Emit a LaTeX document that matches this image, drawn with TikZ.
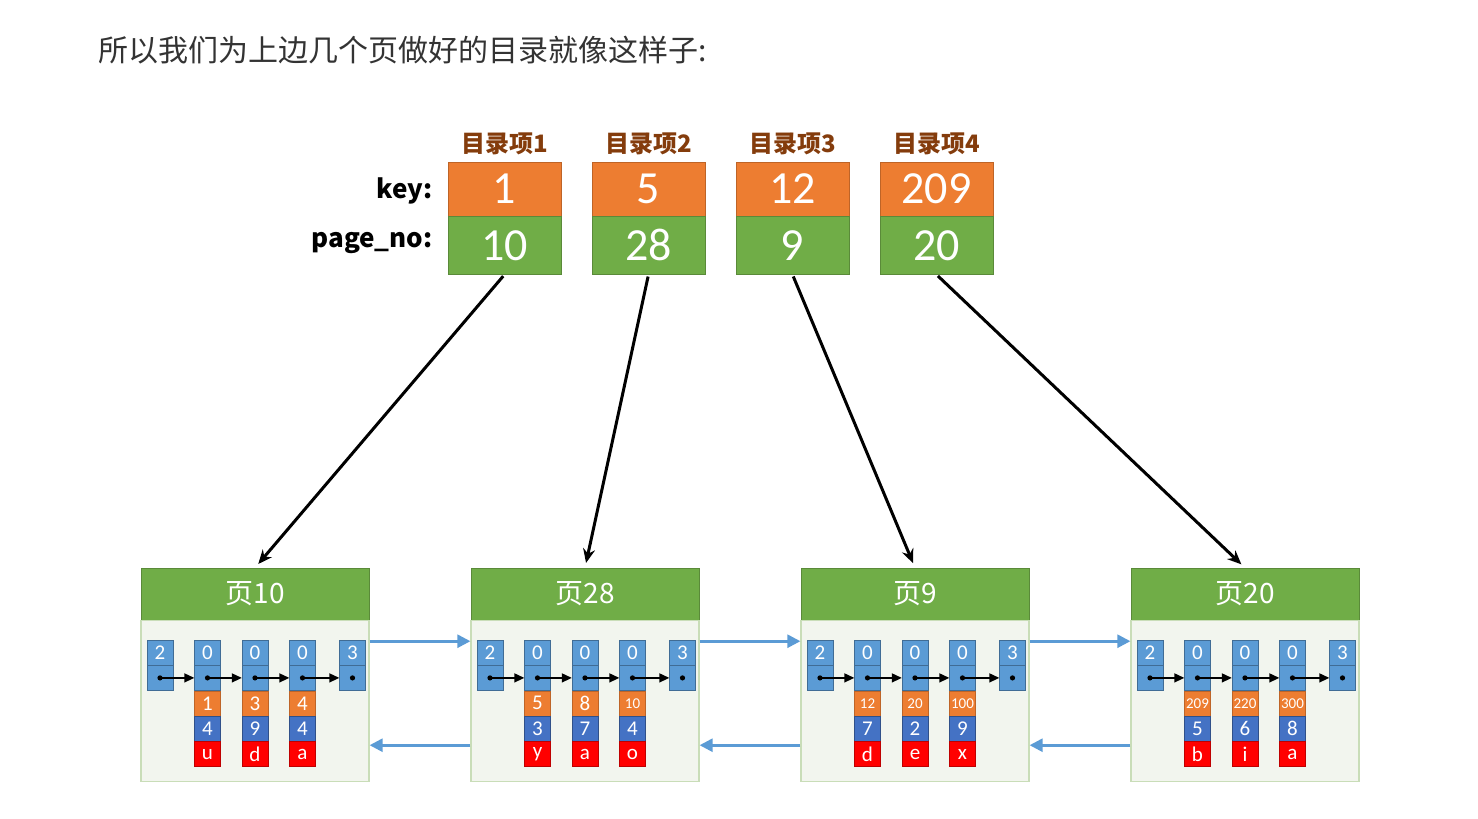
\documentclass[tikz,border=0pt]{standalone}
\usepackage{fontspec}
\setmainfont{Carlito}
\newfontfamily\cjk{Noto Sans CJK SC}
\usetikzlibrary{positioning, arrows.meta}
\definecolor{korange}{HTML}{ED7D31}
\definecolor{kgreen}{HTML}{70AD47}
\definecolor{kblue}{HTML}{5B9BD5}
\definecolor{kdblue}{HTML}{4472C4}
\definecolor{kred}{HTML}{FF0000}
\definecolor{kbrown}{HTML}{843C0C}
\definecolor{kbody}{HTML}{F2F5EE}
\definecolor{kline}{HTML}{C9DDB8}
\tikzset{keybox/.style={draw=korange!80!black,fill=korange,text=white,minimum width=113pt,minimum height=54pt,inner sep=0pt,font=\fontsize{46}{46}\selectfont}}
\tikzset{pagebox/.style={draw=kgreen!80!black,fill=kgreen,text=white,minimum width=113pt,minimum height=58pt,inner sep=0pt,font=\fontsize{46}{46}\selectfont}}
\tikzset{entrylabel/.style={text=kbrown,font=\cjk\bfseries\fontsize{24}{24}\selectfont,inner sep=1pt}}
\tikzset{rowlabel/.style={anchor=east,font=\cjk\bfseries\fontsize{26}{26}\selectfont,inner sep=0pt}}
\tikzset{pagehead/.style={draw=kgreen!80!black,fill=kgreen,text=white,minimum width=228pt,minimum height=52pt,inner sep=0pt,font=\cjk\fontsize{28}{28}\selectfont}}
\tikzset{pagebody/.style={draw=kline,line width=1.2pt,fill=kbody,minimum width=228pt,minimum height=161pt,inner sep=0pt}}
\tikzset{cell/.style={draw=kblue!70!black,fill=kblue,text=white,minimum width=26pt,minimum height=25pt,inner sep=0pt,font=\fontsize{21}{21}\selectfont}}
\tikzset{keycell/.style={cell,draw=korange!80!black,fill=korange}}
\tikzset{valcell/.style={cell,draw=kdblue!70!black,fill=kdblue}}
\tikzset{charcell/.style={cell,draw=kred!75!black,fill=kred}}
\tikzset{dirarrow/.style={-{Stealth[length=14pt,width=12pt]},line width=3pt,shorten <=2pt,shorten >=5pt}}
\tikzset{ptr/.style={-{Triangle[length=10pt,width=9pt]},line width=1.4pt}}
\tikzset{link/.style={-{Triangle[length=13pt,width=13pt]},draw=kblue,line width=2.6pt}}
\begin{document}
\begin{tikzpicture}[x=1pt,y=-1pt]
\useasboundingbox (0,0) rectangle (1478,819);
\node[anchor=west,inner sep=0pt,text=black!80,font=\cjk\fontsize{30}{30}\selectfont] (title) at (98,50) {所以我们为上边几个页做好的目录就像这样子:};

% directory entries
\foreach \k/\p [count=\i] in {1/10,5/28,12/9,209/20}
{
    \node[keybox] (k\i) at (504.5+144*\i-144,189) {\k};
    \node[pagebox, below=0pt of k\i] (p\i) {\p};
    \node[entrylabel, above=6pt of k\i] (t\i) {目录项\i};
}
\node[rowlabel, left=15pt of k1, yshift=-2pt] (keylab) {key:};
\node[rowlabel, left=15pt of p1, yshift=2pt] (pnolab) {page\_no:};

% pages
\foreach \num/\recs [count=\i] in {10/{1/4/u,3/9/d,4/4/a},28/{5/3/y,8/7/a,10/4/o},9/{12/7/d,20/2/e,100/9/x},20/{209/5/b,220/6/i,300/8/a}}
{
    \pgfmathsetmacro\xo{141+330*(\i-1)}
    \node[pagehead] (h\i) at (\xo+114,594) {页\num};
    \node[pagebody, below=0pt of h\i] (b\i) {};
    \node[cell] (inf\i) at (\xo+19,652.5) {2};
    \node[cell, below=0pt of inf\i] (infp\i) {};
    \foreach \a/\b/\c [count=\j] in \recs
    {
        \pgfmathtruncatemacro\ks{\a>9 ? 15 : 21}
        \node[cell] (r\i-\j) at (\xo+19+47.5*\j,652.5) {0};
        \node[cell, below=0pt of r\i-\j] (rp\i-\j) {};
        \node[keycell, below=0pt of rp\i-\j, font=\fontsize{\ks}{\ks}\selectfont] (rk\i-\j) {\a};
        \node[valcell, below=0pt of rk\i-\j] (rv\i-\j) {\b};
        \node[charcell, below=0pt of rv\i-\j] (rc\i-\j) {\c};
    }
    \node[cell] (sup\i) at (\xo+211.5,652.5) {3};
    \node[cell, below=0pt of sup\i] (supp\i) {};

    \draw[ptr] (infp\i.center) -- (rp\i-1.west);
    \draw[ptr] (rp\i-1.center) -- (rp\i-2.west);
    \draw[ptr] (rp\i-2.center) -- (rp\i-3.west);
    \draw[ptr] (rp\i-3.center) -- (supp\i.west);
    \foreach \d in {infp\i,rp\i-1,rp\i-2,rp\i-3,supp\i}
        \fill (\d.center) circle (2.6pt);

    \draw[dirarrow] (p\i.south) -- (h\i.north);
}

% links between pages
\foreach \i [evaluate=\i as \ii using int(\i+1)] in {1,2,3}
{
    \draw[link] ([yshift=-21pt]b\i.north east) -- ([yshift=-21pt]b\ii.north west);
    \draw[link] ([yshift=-125pt]b\ii.north west) -- ([yshift=-125pt]b\i.north east);
}
\end{tikzpicture}
\end{document}
